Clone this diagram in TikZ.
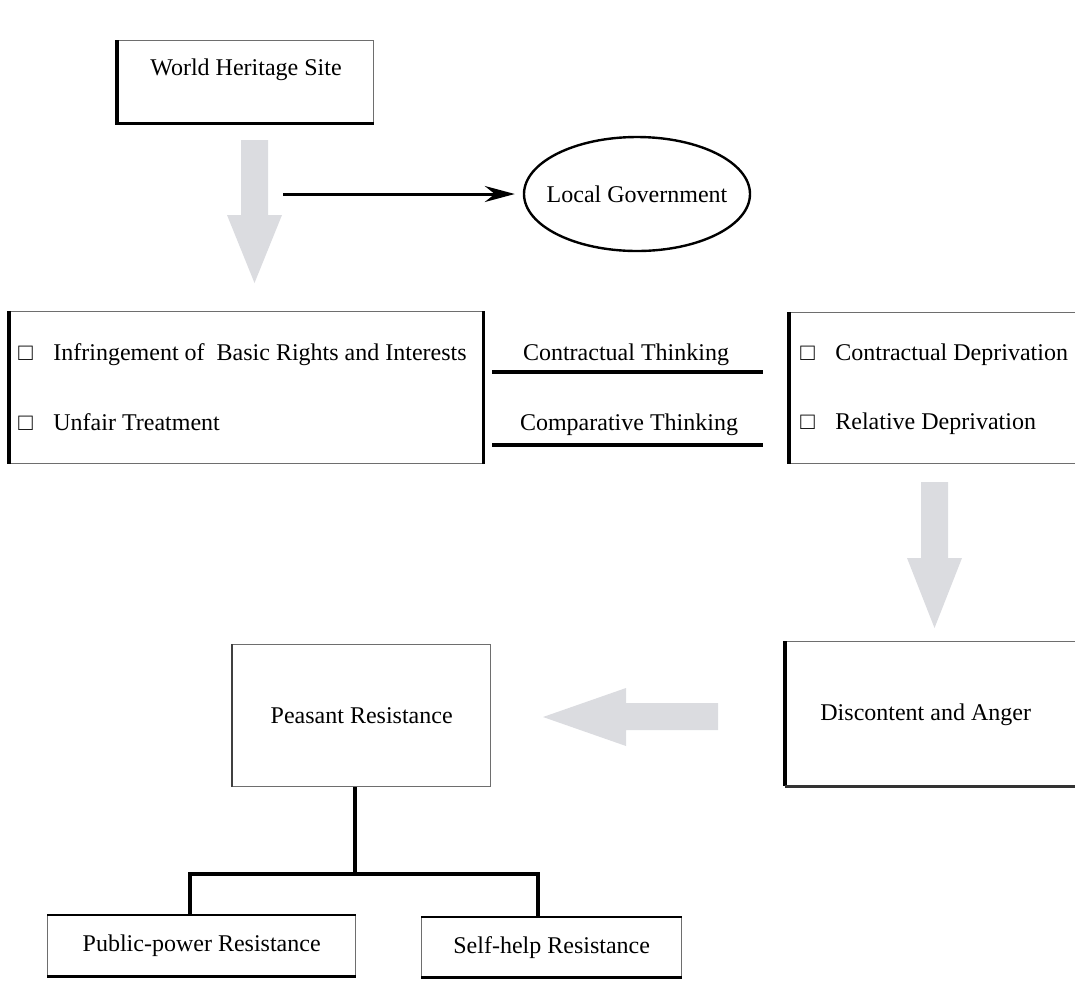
\documentclass[tikz,border=0pt]{standalone}
\usepackage{fontspec}
\setmainfont{Liberation Serif}
\usetikzlibrary{shapes.geometric,arrows.meta}
\definecolor{arrowgray}{RGB}{219,220,224}
\definecolor{rimgray}{RGB}{110,110,110}
\begin{document}
\begin{tikzpicture}[x=0.5pt,y=-0.5pt,
  every node/.style={font=\fontsize{12}{14}\selectfont},
  box/.style={draw=rimgray, line width=0.7pt, rectangle, inner sep=0pt},
  heavy/.style={line width=1.6pt, black},
  link/.style={line width=1.7pt, black},
  txt/.style={inner sep=0pt, text height=0.7em, text depth=0.25em},
  bigarrow/.style={fill=arrowgray, draw=none}]
\useasboundingbox (0,0) rectangle (1075,981);

% ---- World Heritage Site ----
\node[box, anchor=north west, minimum width=128pt, minimum height=41pt] (whs) at (117,40) {};
\draw[heavy] (whs.north west) -- (whs.south west) -- (whs.south east);
\node[txt] (whsT) at (246,71) {World Heritage Site};

% ---- Local Government ----
\node[ellipse, draw, line width=1.2pt, minimum width=113pt, minimum height=57pt,
      inner xsep=-5.2pt, inner ysep=0pt] (gov) at (637,194) {Local Government};
\coordinate (govsrc) at (283,194);
\draw[-{Stealth[length=15pt,width=8pt,inset=5pt]}, line width=1.5pt, shorten >=4pt] (govsrc) -- (gov.west);

% ---- rights box ----
\node[box, anchor=north west, minimum width=236.5pt, minimum height=76pt] (inf) at (9,311) {};
\draw[heavy] (inf.north west) -- (inf.south west);
\draw[heavy] (inf.north east) -- (inf.south east);
\node[txt, anchor=west] (infA) at (18,356) {\makebox[17.5pt][l]{□}Infringement of\ \ Basic Rights and Interests};
\node[txt, anchor=west] (infB) at (18,426) {\makebox[17.5pt][l]{□}Unfair Treatment};

% ---- thinking links ----
\coordinate (k1a) at (492,372);
\coordinate (k1b) at (763,372);
\coordinate (k2a) at (492,445);
\coordinate (k2b) at (763,445);
\draw[link] (k1a) -- (k1b);
\draw[link] (k2a) -- (k2b);
\node[txt] (k1T) at (626,356) {Contractual Thinking};
\node[txt] (k2T) at (629,426) {Comparative Thinking};

% ---- deprivation box ----
\node[box, anchor=north west, minimum width=145.5pt, minimum height=75.5pt] (dep) at (789,312) {};
\draw[heavy] (dep.north west) -- (dep.south west);
\node[txt, anchor=west] (depA) at (800,356) {\makebox[17.5pt][l]{□}Contractual Deprivation};
\node[txt, anchor=west] (depB) at (800,425) {\makebox[17.5pt][l]{□}Relative Deprivation};

% ---- discontent box ----
\node[box, anchor=north west, minimum width=147.5pt, minimum height=72pt] (anger) at (785,641) {};
\draw[heavy] (anger.north west) -- (anger.south west);
\draw[line width=1.1pt, black!80] (anger.south west) -- (anger.south east);
\node[txt, anchor=west] (angerT) at (820,716) {Discontent and Anger};

% ---- peasant resistance ----
\node[box, anchor=north west, minimum width=129pt, minimum height=71pt] (peas) at (232,644) {Peasant Resistance};
\draw[line width=1pt, black!75] (peas.north west) -- (peas.south west);

% ---- two forms ----
\node[box, anchor=north west, minimum width=154pt, minimum height=30pt] (pub) at (47,915) {Public-power Resistance};
\node[box, anchor=north west, minimum width=130pt, minimum height=29.5pt] (self) at (421,917) {Self-help Resistance};
\draw[line width=1.1pt, black] (pub.south west) -- (pub.south east);
\draw[line width=1.1pt, black] (self.south west) -- (self.south east);
\draw[line width=0.9pt, black] (pub.north west) -- (pub.north east);
\draw[line width=0.9pt, black] (self.north west) -- (self.north east);

% tree connector
\coordinate (fork) at (355,874);
\coordinate (brL) at (190,874);
\coordinate (brR) at (538,874);
\draw[link] (peas.south -| fork) -- (fork);
\draw[link] (brL |- pub.north) -- (brL) -- (brR) -- (brR |- self.north);

% ---- grey block arrows ----
\fill[bigarrow] (241,140) -- (268,140) -- (268,215) -- (282,215) -- (254.5,283) -- (227,215) -- (241,215) -- cycle;
\fill[bigarrow] (921,482) -- (948,482) -- (948,558) -- (962,558) -- (934.5,628) -- (907,558) -- (921,558) -- cycle;
\fill[bigarrow] (718,703) -- (718,730) -- (626,730) -- (626,746) -- (543,717) -- (626,688) -- (626,703) -- cycle;
\end{tikzpicture}
\end{document}
